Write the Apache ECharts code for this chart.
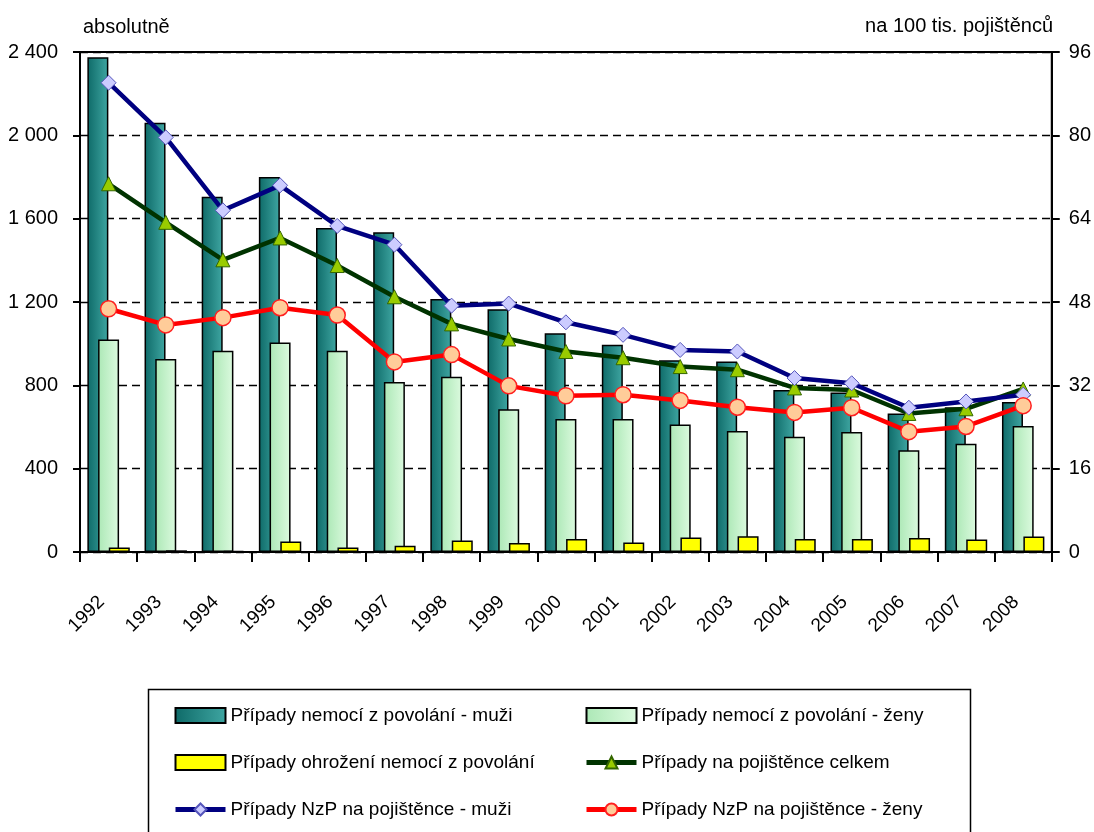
<!DOCTYPE html>
<html>
<head>
<meta charset="utf-8">
<script src="https://cdn.jsdelivr.net/npm/echarts@6/dist/echarts.min.js"></script>
<style>
html,body{margin:0;padding:0;background:#fff;}
#chart{width:1094px;height:832px;}
</style>
</head>
<body>
<div id="chart"></div>
<script>
// ---- data ----
const years = ['1992','1993','1994','1995','1996','1997','1998','1999','2000','2001','2002','2003','2004','2005','2006','2007','2008'];
const leftTicks = [0, 400, 800, 1200, 1600, 2000, 2400];
const rightTicks = [0, 16, 32, 48, 64, 80, 96];
const nemociMuzi = [2375, 2060, 1705, 1800, 1555, 1535, 1215, 1165, 1050, 995, 920, 915, 778, 766, 665, 695, 720];
const nemociZeny = [1020, 927, 966, 1006, 966, 816, 841, 685, 639, 639, 612, 581, 553, 576, 488, 520, 605];
const ohrozeni = [22, 8, 6, 50, 22, 30, 55, 43, 63, 46, 70, 76, 63, 63, 67, 60, 75];
const naPojistenceCelkem = [70.7, 63.3, 56.1, 60.3, 55.0, 49.0, 43.8, 40.9, 38.5, 37.3, 35.6, 35.0, 31.5, 31.1, 26.6, 27.5, 31.3];
const nzpMuzi = [90.1, 79.6, 65.6, 70.4, 62.6, 59.0, 47.3, 47.7, 44.1, 41.7, 38.8, 38.5, 33.4, 32.4, 27.7, 28.9, 30.2];
const nzpZeny = [46.7, 43.6, 45.0, 46.9, 45.5, 36.5, 37.9, 31.9, 30.0, 30.2, 29.1, 27.8, 26.8, 27.7, 23.1, 24.1, 28.1];
const names = [
  'Případy nemocí z povolání - muži',
  'Případy nemocí z povolání - ženy',
  'Případy ohrožení nemocí z povolání',
  'Případy na pojištěnce celkem',
  'Případy NzP na pojištěnce - muži',
  'Případy NzP na pojištěnce - ženy'
];

// ---- font selection ----
function hasFont(name){
  const c = document.createElement('canvas').getContext('2d');
  const s = 'abcdefghijklmnopqrstuvwxyz0123456789';
  c.font = '40px monospace';
  const a = c.measureText(s).width;
  c.font = '40px "' + name + '", monospace';
  const b = c.measureText(s).width;
  return Math.abs(a - b) > 0.5;
}
const NARROW = hasFont('Liberation Sans Narrow');
const FF = NARROW ? '"Liberation Sans Narrow", "Arial Narrow", sans-serif' : '"Liberation Sans", Arial, sans-serif';
const FS_AX = NARROW ? 22 : 20;
const FS_X = NARROW ? 22 : 19;
const FS_LEG = NARROW ? 23 : 19;
const FS_TTL = NARROW ? 22 : 20;

function fmtLeft(v){
  if (v >= 1000) { return Math.floor(v/1000) + ' ' + String(v % 1000).padStart(3, '0'); }
  return String(v);
}

const tealGrad = new echarts.graphic.LinearGradient(0, 0, 1, 0, [
  {offset: 0, color: '#0e6a68'}, {offset: 1, color: '#3fa6a2'}
]);
const greenGrad = new echarts.graphic.LinearGradient(0, 0, 1, 0, [
  {offset: 0, color: '#ace8b6'}, {offset: 1, color: '#dcfadf'}
]);

const barStyles = [
  {color: tealGrad, borderColor: '#000', borderWidth: 1.5},
  {color: greenGrad, borderColor: '#000', borderWidth: 1.5},
  {color: '#ffff00', borderColor: '#000', borderWidth: 1.5}
];
const lineDefs = [
  {symbol: 'triangle', size: 14, line: {color: '#003300', width: 4.5}, item: {color: '#99cc00', borderColor: '#336600', borderWidth: 1}},
  {symbol: 'diamond', size: 15, line: {color: '#000080', width: 4.5}, item: {color: '#ccccff', borderColor: '#5555bb', borderWidth: 1}},
  {symbol: 'circle', size: 16, line: {color: '#ff0000', width: 4.5}, item: {color: '#ffcc99', borderColor: '#ff2020', borderWidth: 1.5}}
];

function legendItem(i){
  if (i < 3) return {name: names[i], icon: 'rect'};
  const d = lineDefs[i-3];
  return {name: names[i], lineStyle: {width: 5, color: d.line.color}};
}

const chart = echarts.init(document.getElementById('chart'), null, {renderer: 'canvas'});
const barW = 21;
const legendCommon = {
  orient: 'vertical', top: 706, padding: 0,
  itemWidth: 50, itemHeight: 15, itemGap: 28,
  textStyle: {fontFamily: FF, fontSize: FS_LEG, color: '#000'}
};
const option = {
  animation: false,
  backgroundColor: '#fff',
  textStyle: {fontFamily: FF, color: '#000'},
  title: [
    {text: 'absolutně', left: 83, top: 17, padding: 0,
     textStyle: {fontFamily: FF, fontSize: FS_TTL, fontWeight: 'normal', color: '#000'}},
    {text: 'na 100 tis. pojištěnců', right: 41, top: 16, padding: 0,
     textStyle: {fontFamily: FF, fontSize: FS_TTL, fontWeight: 'normal', color: '#000'}}
  ],
  grid: {left: 80, right: 41, top: 52, bottom: 280, show: true, borderColor: '#000', borderWidth: 2, backgroundColor: 'transparent'},
  legend: [
    Object.assign({data: [legendItem(0), legendItem(2), legendItem(4)], left: 173}, legendCommon),
    Object.assign({data: [legendItem(1), legendItem(3), legendItem(5)], left: 584}, legendCommon)
  ],
  graphic: [
    {type: 'rect', left: 146, top: 687, shape: {width: 822, height: 200},
     style: {fill: 'none', stroke: '#000', lineWidth: 1.5}, silent: true}
  ],
  xAxis: {
    type: 'category', data: years, boundaryGap: true,
    axisLine: {show: true, lineStyle: {color: '#000', width: 2}},
    axisTick: {show: true, inside: false, length: 10, lineStyle: {color: '#000', width: 2}},
    axisLabel: {rotate: 45, margin: 40, padding: [0, 10, 0, 0], fontFamily: FF, fontSize: FS_X, color: '#000', interval: 0},
    splitLine: {show: false}
  },
  yAxis: [
    {type: 'value', min: leftTicks[0], max: leftTicks[leftTicks.length-1], interval: leftTicks[1]-leftTicks[0], position: 'left',
     axisLine: {show: true, lineStyle: {color: '#000', width: 2}},
     axisTick: {show: true, length: 7, lineStyle: {color: '#000', width: 2}},
     axisLabel: {margin: 22, fontFamily: FF, fontSize: FS_AX, color: '#000', formatter: fmtLeft},
     splitLine: {show: true, lineStyle: {color: '#000', width: 1.3, type: [8, 5]}}},
    {type: 'value', min: rightTicks[0], max: rightTicks[rightTicks.length-1], interval: rightTicks[1]-rightTicks[0], position: 'right',
     axisLine: {show: true, lineStyle: {color: '#000', width: 2}},
     axisTick: {show: true, length: 8, lineStyle: {color: '#000', width: 2}},
     axisLabel: {margin: 17, fontFamily: FF, fontSize: FS_AX, color: '#000'},
     splitLine: {show: false}}
  ],
  series: [
    {name: names[0], type: 'bar', data: nemociMuzi, yAxisIndex: 0, barWidth: barW, barGap: '-49%', itemStyle: barStyles[0]},
    {name: names[1], type: 'bar', data: nemociZeny, yAxisIndex: 0, barWidth: barW, barGap: '-49%', itemStyle: barStyles[1]},
    {name: names[2], type: 'bar', data: ohrozeni, yAxisIndex: 0, barWidth: barW, barGap: '-49%', itemStyle: barStyles[2]},
    {name: names[3], type: 'line', data: naPojistenceCelkem, yAxisIndex: 1,
     symbol: lineDefs[0].symbol, symbolSize: lineDefs[0].size, showAllSymbol: true,
     lineStyle: lineDefs[0].line, itemStyle: lineDefs[0].item},
    {name: names[4], type: 'line', data: nzpMuzi, yAxisIndex: 1,
     symbol: lineDefs[1].symbol, symbolSize: lineDefs[1].size, showAllSymbol: true,
     lineStyle: lineDefs[1].line, itemStyle: lineDefs[1].item},
    {name: names[5], type: 'line', data: nzpZeny, yAxisIndex: 1,
     symbol: lineDefs[2].symbol, symbolSize: lineDefs[2].size, showAllSymbol: true,
     lineStyle: lineDefs[2].line, itemStyle: lineDefs[2].item}
  ]
};
chart.setOption(option);
</script>
</body>
</html>
